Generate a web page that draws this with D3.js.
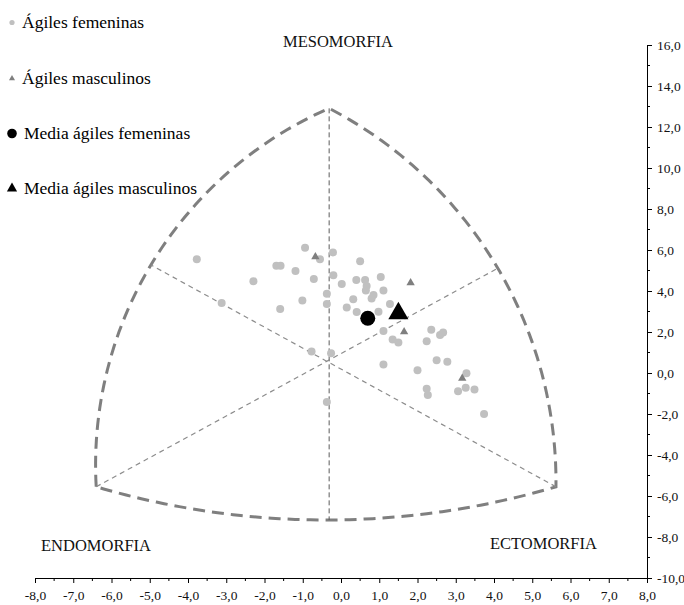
<!DOCTYPE html>
<html>
<head>
<meta charset="utf-8">
<script src="https://cdnjs.cloudflare.com/ajax/libs/d3/7.8.5/d3.min.js"></script>
<style>
body { margin: 0; background: #fff; }
svg { display: block; }
</style>
</head>
<body>
<svg width="684" height="605"></svg>
<script>
// ágiles femeninas (x = ecto - endo, y = 2*meso - (endo + ecto))
var femX = [-3.77,-0.94,-0.21,-0.55,-1.69,-1.58,-1.19,-2.29,-0.71,-0.20,0.50,0.02,0.40,0.63,1.04,0.67,0.65,1.11,0.85,0.80,0.32,-0.37,-0.37,-1.01,-1.59,-3.12,0.15,0.41,0.98,1.28,1.11,1.35,1.50,2.36,2.59,2.67,2.24,-0.77,-0.26,1.11,2.00,2.50,2.78,3.28,2.24,2.27,3.06,3.26,3.49,3.74,-0.37];
var femY = [5.55,6.11,5.88,5.55,5.23,5.23,4.98,4.48,4.59,4.77,5.45,4.34,4.54,4.54,4.68,4.24,4.03,4.03,3.80,3.64,3.60,3.87,3.37,3.54,3.12,3.41,3.19,2.98,2.99,3.36,2.05,1.63,1.49,2.11,1.85,1.97,1.55,1.05,0.96,0.42,0.13,0.62,0.55,-0.01,-0.77,-1.07,-0.89,-0.72,-0.80,-2.00,-1.41];
// ágiles masculinos
var mascX = [-0.67, 1.82, 1.65, 3.17];
var mascY = [5.67, 4.40, 2.01, -0.26];
// medias
var mediaFem = [0.70, 2.67];
var mediaMasc = [1.50, 2.91];

// somatocarta: vertices y puntos medios de los arcos
var vertMeso = [-0.31, 12.91],
    vertEndo = [-6.40, -5.55],
    vertEcto = [5.62, -5.55];
var arcEndoMeso = [-4.97, 5.27],
    arcMesoEcto = [4.10, 5.11],
    arcEndoEcto = [-0.31, -7.17];

var xTicks = d3.range(-8, 8.5, 1),
    xMinor = d3.range(-7.5, 8, 1),
    yTicks = d3.range(-10, 17, 2),
    yMinor = d3.range(-9, 16, 2);

var legendLabels = ["Ágiles femeninas", "Ágiles masculinos", "Media ágiles femeninas", "Media ágiles masculinos"];

var serif = "'Liberation Serif', 'Times New Roman', 'DejaVu Serif', serif";
var svg = d3.select("svg").attr("font-family", serif);

var x = d3.scaleLinear().domain([-8, 8]).range([35, 647]),
    y = d3.scaleLinear().domain([-10, 16]).range([578, 45]);

var fmt = d3.formatLocale({decimal: ",", thousands: ".", grouping: [3], currency: ["", ""], minus: "-"}).format(".1f");

/* axes */
var gx = svg.append("g")
    .attr("transform", "translate(0," + y(-10) + ")")
    .call(d3.axisBottom(x).tickValues(xTicks).tickFormat(fmt).tickSize(5).tickSizeOuter(0))
    .attr("font-family", serif)
    .attr("font-size", 13.5);
gx.selectAll(".tick text").attr("dy", "1.0em").attr("fill", "#111");
gx.selectAll(".minor").data(xMinor).enter().append("line")
    .attr("class", "minor")
    .attr("stroke", "#000")
    .attr("x1", d => x(d)).attr("x2", d => x(d))
    .attr("y1", 0).attr("y2", 3);

var gy = svg.append("g")
    .attr("transform", "translate(" + x(8) + ",0)")
    .call(d3.axisRight(y).tickValues(yTicks).tickFormat(fmt).tickSize(5).tickSizeOuter(0))
    .attr("font-family", serif)
    .attr("font-size", 13.5);
gy.selectAll(".tick text").attr("x", 10).attr("fill", "#111");
gy.selectAll(".minor").data(yMinor).enter().append("line")
    .attr("class", "minor")
    .attr("stroke", "#000")
    .attr("y1", d => y(d)).attr("y2", d => y(d))
    .attr("x1", 0).attr("x2", 3);

/* outline: three circular arcs through (start, middle, end) */
function arcPoints(a, m, b, n) {
  var A = [x(a[0]), y(a[1])], B = [x(m[0]), y(m[1])], C = [x(b[0]), y(b[1])];
  var d = 2 * (A[0] * (B[1] - C[1]) + B[0] * (C[1] - A[1]) + C[0] * (A[1] - B[1]));
  var a2 = A[0] * A[0] + A[1] * A[1], b2 = B[0] * B[0] + B[1] * B[1], c2 = C[0] * C[0] + C[1] * C[1];
  var ux = (a2 * (B[1] - C[1]) + b2 * (C[1] - A[1]) + c2 * (A[1] - B[1])) / d,
      uy = (a2 * (C[0] - B[0]) + b2 * (A[0] - C[0]) + c2 * (B[0] - A[0])) / d;
  var r = Math.hypot(A[0] - ux, A[1] - uy);
  var t0 = Math.atan2(A[1] - uy, A[0] - ux),
      tm = Math.atan2(B[1] - uy, B[0] - ux),
      t2 = Math.atan2(C[1] - uy, C[0] - ux);
  var tau = 2 * Math.PI;
  var dm = ((tm - t0) % tau + tau) % tau,
      d2 = ((t2 - t0) % tau + tau) % tau;
  var sweep = dm < d2 ? d2 : d2 - tau;
  return d3.range(n + 1).map(i => [ux + r * Math.cos(t0 + sweep * i / n), uy + r * Math.sin(t0 + sweep * i / n)]);
}

var outline = arcPoints(vertEndo, arcEndoMeso, vertMeso, 60)
  .concat(arcPoints(vertMeso, arcMesoEcto, vertEcto, 60).slice(1))
  .concat(arcPoints(vertEcto, arcEndoEcto, vertEndo, 60).slice(1));

svg.append("path")
    .attr("d", d3.line()(outline) + "Z")
    .attr("fill", "none")
    .attr("stroke", "#7f7f7f")
    .attr("stroke-width", 3)
    .attr("stroke-dasharray", "12,7");

// lineas divisorias
svg.append("line")
    .attr("x1", x(vertMeso[0])).attr("y1", y(vertMeso[1]))
    .attr("x2", x(arcEndoEcto[0])).attr("y2", y(arcEndoEcto[1]))
    .attr("stroke", "#5a5a5a").attr("stroke-width", 1).attr("stroke-dasharray", "5,3");
[[vertEndo, arcMesoEcto], [vertEcto, arcEndoMeso]].forEach(function(p) {
  svg.append("line")
    .attr("x1", x(p[0][0])).attr("y1", y(p[0][1]))
    .attr("x2", x(p[1][0])).attr("y2", y(p[1][1]))
    .attr("stroke", "#8c8c8c").attr("stroke-width", 1.2).attr("stroke-dasharray", "5,4");
});

/* points */
svg.append("g").selectAll("circle")
    .data(femX.map((d, i) => [d, femY[i]]))
    .enter().append("circle")
    .attr("cx", d => x(d[0]))
    .attr("cy", d => y(d[1]))
    .attr("r", 4)
    .attr("fill", "#c0c0c0");

var triSmall = d3.symbol().type(d3.symbolTriangle).size(30);
svg.append("g").selectAll("path")
    .data(mascX.map((d, i) => [d, mascY[i]]))
    .enter().append("path")
    .attr("d", triSmall)
    .attr("transform", d => "translate(" + x(d[0]) + "," + y(d[1]) + ")")
    .attr("fill", "#7f7f7f");

svg.append("circle")
    .attr("cx", x(mediaFem[0]))
    .attr("cy", y(mediaFem[1]))
    .attr("r", 7.5)
    .attr("fill", "#000");

svg.append("path")
    .attr("d", d3.symbol().type(d3.symbolTriangle).size(175))
    .attr("transform", "translate(" + x(mediaMasc[0]) + "," + y(mediaMasc[1]) + ")")
    .attr("fill", "#000");

/* pole labels */
svg.append("text").attr("x", 283).attr("y", 47).attr("font-size", 16.5).attr("fill", "#111").text("MESOMORFIA");
svg.append("text").attr("x", 41).attr("y", 551).attr("font-size", 16.5).attr("fill", "#111").text("ENDOMORFIA");
svg.append("text").attr("x", 490).attr("y", 549).attr("font-size", 16.5).attr("fill", "#111").text("ECTOMORFIA");

/* legend */
var legend = svg.append("g").attr("class", "legend");
var legY = [22.5, 78.5, 133.5, 188.5];
legendLabels.forEach(function(lab, i) {
  var item = legend.append("g").attr("transform", "translate(12," + legY[i] + ")");
  if (i == 0) item.append("circle").attr("r", 2.6).attr("fill", "#c0c0c0");
  if (i == 1) item.append("path").attr("d", d3.symbol().type(d3.symbolTriangle).size(16)).attr("fill", "#7f7f7f");
  if (i == 2) item.append("circle").attr("r", 4.8).attr("fill", "#000");
  if (i == 3) item.append("path").attr("d", d3.symbol().type(d3.symbolTriangle).size(45)).attr("fill", "#000");
  item.append("text")
    .attr("x", i < 2 ? 10 : 12)
    .attr("y", 5.5)
    .attr("font-size", 17.5)
    .attr("fill", "#000")
    .text(lab);
});
</script>
</body>
</html>
